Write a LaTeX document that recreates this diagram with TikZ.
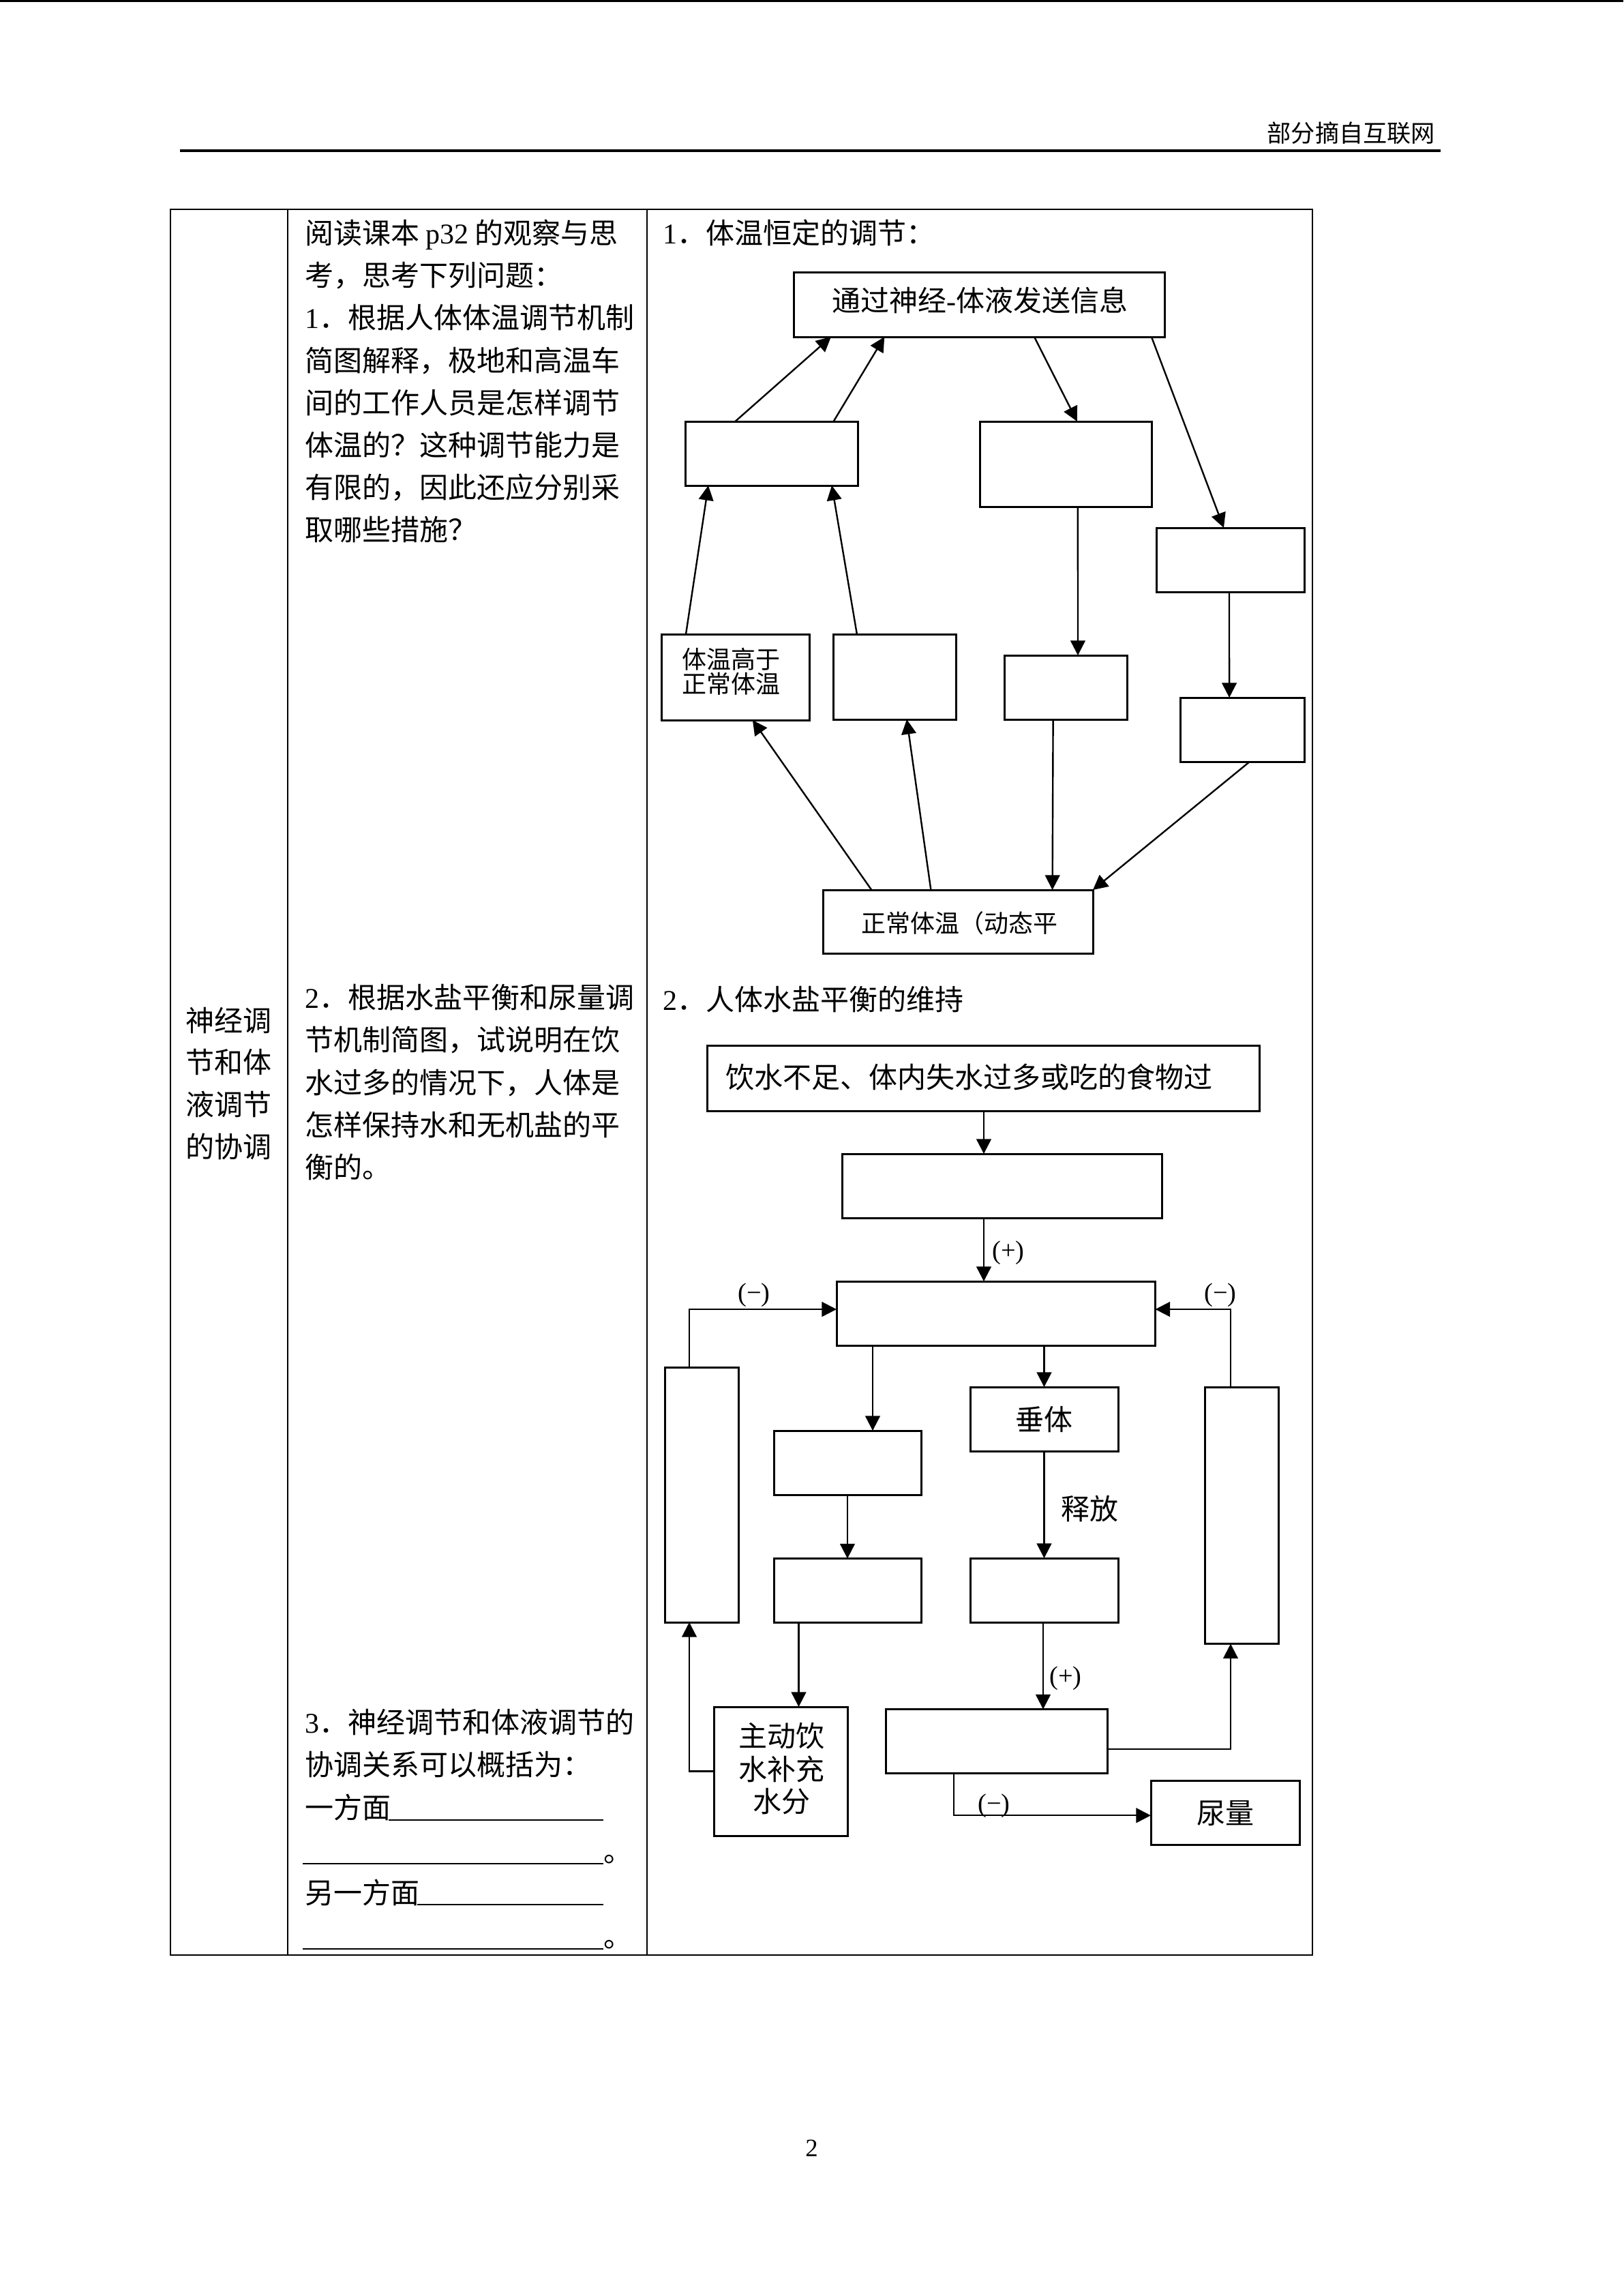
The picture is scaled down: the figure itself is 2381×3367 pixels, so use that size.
\documentclass[tikz,border=0pt]{standalone}
\usepackage{fontspec}
\setmainfont{Liberation Serif}
\newfontfamily\cjk{Noto Sans CJK SC}
\usetikzlibrary{arrows.meta,calc,fit}
\newcommand\lat[1]{{\rmfamily #1}}
\begin{document}
\begin{tikzpicture}[x=0.25pt,y=-0.25pt,
  every node/.style={inner sep=0pt,outer sep=0pt},
  ln/.style={anchor=base west,font=\fontsize{10.5}{12}\selectfont\cjk},
  lnc/.style={anchor=base,font=\fontsize{10.5}{12}\selectfont\cjk},
  slnc/.style={anchor=base,font=\fontsize{9}{10}\selectfont\cjk},
  bx/.style={draw,line width=0.75pt,inner sep=0pt},
  sgn/.style={anchor=base,font=\fontsize{9.6}{11}\selectfont\rmfamily},
  arr/.style={line width=0.6pt,-{Triangle[length=5.4pt,width=5.4pt]}},
  tbl/.style={line width=0.5pt},
  uline/.style={line width=0.5pt}]
\useasboundingbox (0,0) rectangle (2381,3367);
\fill[white] (0,0) rectangle (2381,3367);
\draw[line width=0.8pt] (0,1.5) -- (2381,1.5);
% header
\node[anchor=base east,font=\fontsize{8.8}{10}\selectfont\cjk] (hdr) at (2105,208) {部分摘自互联网};
\draw[line width=0.8pt] (264,221) -- (2113,221);
% table
\draw[tbl] (250,307) rectangle (1925,2867);
\draw[tbl] (422,307) -- (422,2867);
\draw[tbl] (949,307) -- (949,2867);
% left column
\node[lnc] (c1a) at (335,1512) {神经调};
\node[lnc] (c1b) at (335,1573) {节和体};
\node[lnc] (c1c) at (335,1635) {液调节};
\node[lnc] (c1d) at (335,1697) {的协调};
% middle column, paragraph 1
\node[ln] (m1) at (447,357) {阅读课本 \lat{p32} 的观察与思};
\node[ln] (m2) at (447,419) {考，思考下列问题：};
\node[ln] (m3) at (447,481) {\lat{1}．根据人体体温调节机制};
\node[ln] (m4) at (447,544) {简图解释，极地和高温车};
\node[ln] (m5) at (447,606) {间的工作人员是怎样调节};
\node[ln] (m6) at (447,668) {体温的？这种调节能力是};
\node[ln] (m7) at (447,730) {有限的，因此还应分别采};
\node[ln] (m8) at (447,792) {取哪些措施？};
% paragraph 2
\node[ln] (n1) at (447,1478) {\lat{2}．根据水盐平衡和尿量调};
\node[ln] (n2) at (447,1540) {节机制简图，试说明在饮};
\node[ln] (n3) at (447,1603) {水过多的情况下，人体是};
\node[ln] (n4) at (447,1665) {怎样保持水和无机盐的平};
\node[ln] (n5) at (447,1727) {衡的。};
% paragraph 3
\node[ln] (o1) at (447,2541) {\lat{3}．神经调节和体液调节的};
\node[ln] (o2) at (447,2603) {协调关系可以概括为：};
\node[ln] (o3) at (447,2666) {一方面};
\draw[uline] (570,2669) -- (885,2669);
\draw[uline] (444,2733) -- (885,2733);
\node[ln] (o4) at (885,2730) {。};
\node[ln] (o5) at (447,2791) {另一方面};
\draw[uline] (612,2793) -- (885,2793);
\draw[uline] (444,2858) -- (885,2858);
\node[ln] (o6) at (885,2855) {。};
% diagram 1
\node[ln] (t1) at (972,357) {\lat{1}．体温恒定的调节：};
\node[bx,fit={(1164.5,399) (1708.5,494)}] (T0) {};
\node[lnc] (T0t) at (1437,456) {通过神经\lat{-}体液发送信息};
\node[bx,fit={(1005,618) (1258,712)}] (A) {};
\node[bx,fit={(1437,618) (1689,743)}] (B) {};
\node[bx,fit={(1696,774) (1913,868)}] (C) {};
\node[bx,fit={(970,930) (1187,1056)}] (D) {};
\node[slnc] (Dt1) at (1072,980) {体温高于};
\node[slnc] (Dt2) at (1072,1016) {正常体温};
\node[bx,fit={(1222,930) (1402,1055)}] (E) {};
\node[bx,fit={(1473,961) (1653,1055)}] (F) {};
\node[bx,fit={(1731,1023) (1913,1117)}] (G) {};
\node[bx,fit={(1207,1305) (1603,1398)}] (H) {};
\node[slnc] (Ht) at (1407,1367) {正常体温（动态平};
\draw[arr] ($(A.north west)!0.29!(A.north east)$) -- ($(T0.south west)!0.10!(T0.south east)$);
\draw[arr] ($(A.north west)!0.86!(A.north east)$) -- ($(T0.south west)!0.244!(T0.south east)$);
\draw[arr] ($(T0.south west)!0.648!(T0.south east)$) -- ($(B.north west)!0.567!(B.north east)$);
\draw[arr] ($(T0.south west)!0.964!(T0.south east)$) -- ($(C.north west)!0.456!(C.north east)$);
\draw[arr] ($(D.north west)!0.166!(D.north east)$) -- ($(A.south west)!0.134!(A.south east)$);
\draw[arr] ($(E.north west)!0.194!(E.north east)$) -- ($(A.south west)!0.85!(A.south east)$);
\draw[arr] ($(B.south west)!0.571!(B.south east)$) -- ($(F.north west)!0.6!(F.north east)$);
\draw[arr] ($(C.south west)!0.493!(C.south east)$) -- ($(G.north west)!0.396!(G.north east)$);
\draw[arr] ($(H.north west)!0.18!(H.north east)$) -- ($(D.south west)!0.617!(D.south east)$);
\draw[arr] ($(H.north west)!0.40!(H.north east)$) -- ($(E.south west)!0.6!(E.south east)$);
\draw[arr] ($(F.south west)!0.398!(F.south east)$) -- ($(H.north west)!0.85!(H.north east)$);
\draw[arr] ($(G.south west)!0.56!(G.south east)$) -- (H.north east);
% diagram 2
\node[ln] (t2) at (972,1481) {\lat{2}．人体水盐平衡的维持};
\node[bx,fit={(1037.6,1533) (1847,1629)}] (P1) {};
\node[ln] (P1t) at (1064,1595) {饮水不足、体内失水过多或吃的食物过};
\node[bx,fit={(1235,1692) (1704,1786.5)}] (P2) {};
\node[bx,fit={(1227,1879) (1694.5,1973)}] (P3) {};
\node[bx,fit={(975,2005) (1083.5,2379)}] (L) {};
\node[bx,fit={(1767,2034) (1875,2410.5)}] (R) {};
\node[bx,fit={(1135,2098) (1351,2192)}] (Q1) {};
\node[bx,fit={(1423,2034) (1640,2128)}] (V) {};
\node[lnc] (Vt) at (1531,2097) {垂体};
\node[bx,fit={(1135,2285.5) (1351,2379)}] (Q2) {};
\node[bx,fit={(1423,2285) (1640,2379)}] (Q3) {};
\node[bx,fit={(1047,2503) (1243,2692)}] (S) {};
\node[lnc] (St1) at (1146,2561) {主动饮};
\node[lnc] (St2) at (1146,2610) {水补充};
\node[lnc] (St3) at (1146,2657) {水分};
\node[bx,fit={(1299,2506.5) (1624,2600)}] (T) {};
\node[bx,fit={(1688,2611.5) (1906,2705)}] (U) {};
\node[lnc] (Ut) at (1797,2674) {尿量};
\node[lnc] (rel) at (1598,2228) {释放};
\coordinate (xc) at (1443,0);
\coordinate (xl) at (1011,0);
\coordinate (xr) at (1805,0);
\coordinate (xq) at (1280,0);
\coordinate (xs) at (1171.5,0);
\coordinate (xt) at (1530,0);
\coordinate (xu) at (1399,0);
\draw[arr] (P1.south -| xc) -- (P2.north -| xc);
\draw[arr] (P2.south -| xc) -- (P3.north -| xc);
\draw[arr] (L.north -| xl) |- ([yshift=1.5pt]P3.west);
\draw[arr] (R.north -| xr) |- ([yshift=1.5pt]P3.east);
\draw[arr] (P3.south -| xq) -- (Q1.north -| xq);
\draw[arr] (P3.south -| V.north) -- (V.north);
\draw[arr] (Q1.south) -- (Q2.north);
\draw[arr] (V.south) -- (Q3.north);
\draw[arr] (Q2.south -| xs) -- (S.north -| xs);
\draw[arr] (S.west) -| (L.south -| xl);
\draw[arr] (Q3.south -| xt) -- (T.north -| xt);
\draw[arr] ([yshift=-3pt]T.east) -| (R.south -| xr);
\draw[arr] (T.south -| xu) |- ([yshift=-1pt]U.west);
\node[sgn] (s1) at (1479,1846) {(+)};
\node[sgn] (s2) at (1106,1908) {(−)};
\node[sgn] (s3) at (1790,1908) {(−)};
\node[sgn] (s4) at (1563,2470) {(+)};
\node[sgn] (s5) at (1458,2657) {(−)};
% page number
\node[anchor=base,font=\fontsize{9.2}{11}\selectfont\rmfamily] (pg) at (1190.5,3162) {2};
\end{tikzpicture}
\end{document}
